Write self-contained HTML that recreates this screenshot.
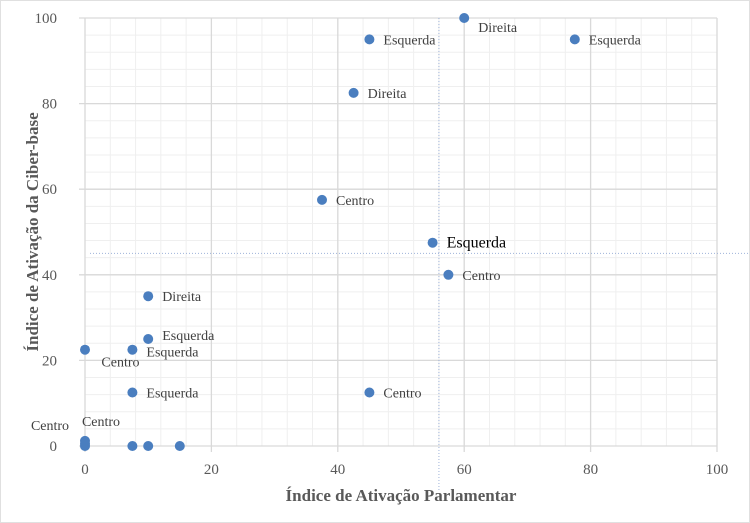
<!DOCTYPE html>
<html><head><meta charset="utf-8"><style>
html,body{margin:0;padding:0;background:#fff}
svg{display:block;font-family:"Liberation Serif",serif}
</style></head><body>
<svg id="chart" width="750" height="523" viewBox="0 0 750 523" xmlns="http://www.w3.org/2000/svg">
<rect x="0.5" y="0.5" width="749" height="522" fill="#fff" stroke="#e0e0e0"/>
<g id="grid"></g>
<g id="ticks"></g>
<g id="refs"></g>
<g id="points"></g>
<text x="401" y="501" text-anchor="middle" font-size="17" font-weight="bold" fill="#595959">Índice de Ativação Parlamentar</text>
<text transform="translate(38,232) rotate(-90)" text-anchor="middle" font-size="17" font-weight="bold" fill="#595959">Índice de Ativação da Ciber-base</text>
</svg>
<script>
const xVals=[60,45,77.5,42.5,37.5,55,57.5,10,10,0,7.5,7.5,45,0,0,0,7.5,10,15];
const yVals=[100,95,95,82.5,57.5,47.5,40,35,25,22.5,22.5,12.5,12.5,1.2,0.5,0,0,0,0];
const labels=["Direita","Esquerda","Esquerda","Direita","Centro","Esquerda","Centro","Direita","Esquerda","","Esquerda","Esquerda","Centro","Centro","Centro","","","",""];
const xTicks=[0,20,40,60,80,100];
const yTicks=[0,20,40,60,80,100];
const refX=[56];
const refY=[45];
const NS="http://www.w3.org/2000/svg";
const X0=85,X1=717,Y0=446,Y1=18;
const sx=v=>X0+(X1-X0)*v/100, sy=v=>Y0-(Y0-Y1)*v/100;
function mk(t,a,p){const e=document.createElementNS(NS,t);for(const k in a)e.setAttribute(k,a[k]);p.appendChild(e);return e;}
const grid=document.getElementById('grid');
for(let v=0;v<=100;v+=4){
 const l1=mk('line',{x1:sx(v),x2:sx(v),y1:Y1,y2:Y0,stroke:'#efefef','stroke-width':1},grid);
 
 
 const l2=mk('line',{x1:X0,x2:X1,y1:sy(v),y2:sy(v),stroke:'#efefef','stroke-width':1},grid);
 
 
}
const tk=document.getElementById('ticks');
xTicks.forEach(v=>{
 const l=mk('line',{x1:sx(v),x2:sx(v),y1:Y1,y2:Y0+6,stroke:'#d9d9d9','stroke-width':1.3},tk);
 
 
 const t=mk('text',{x:sx(v),y:Y0+28,'text-anchor':'middle','font-size':15,fill:'#595959'},tk);
 t.textContent=v;
 
 
});
yTicks.forEach(v=>{
 const l=mk('line',{x1:X0-6,x2:X1,y1:sy(v),y2:sy(v),stroke:'#d9d9d9','stroke-width':1.3},tk);
 
 
 const t=mk('text',{x:X0-28,y:sy(v)+5,'text-anchor':'end','font-size':15,fill:'#595959'},tk);
 t.textContent=v;
 
 
});
const refs=document.getElementById('refs');
refX.forEach(v=>{
 const l=mk('line',{x1:sx(v),x2:sx(v),y1:Y1,y2:490,stroke:'#9fb3d9','stroke-width':1,'stroke-dasharray':'1,2'},refs);
 
 
});
refY.forEach(v=>{
 const l=mk('line',{x1:90,x2:750,y1:sy(v),y2:sy(v),stroke:'#9fb3d9','stroke-width':1,'stroke-dasharray':'1,2'},refs);
 
 
});
const pts=document.getElementById('points');
xVals.forEach((xv,i)=>{
 const c=mk('circle',{cx:sx(xv),cy:sy(yVals[i]),r:5,fill:'#4a7ebf'},pts);
 
 
 const lab=labels[i]; if(!lab)return;
 let dx=14,dy=5,anchor='start',fs=14,fill='#404040';
 if(i===0){dy=14;}
 if(i===5){fs=16;fill='#000';}
 if(i===8){dy=1;}
 if(i===10){dy=7;}
 if(i===13){dx=16;dy=-15;anchor='middle';}
 if(i===14){dx=-35;dy=-14;anchor='middle';}
 const t=mk('text',{x:sx(xv)+dx,y:sy(yVals[i])+dy,'text-anchor':anchor,'font-size':fs,fill:fill},pts);
 t.textContent=lab;
 
 
});
// extra "Centro" label for point at (7.5,22.5) placed below-left
const ex=mk('text',{x:sx(7.5)-31,y:sy(22.5)+17,'font-size':14,fill:'#404040'},pts);
ex.textContent='Centro';


</script>
</body></html>
